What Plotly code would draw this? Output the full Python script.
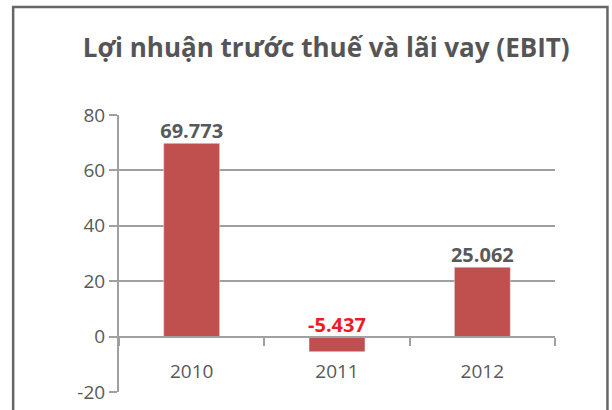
import plotly.graph_objects as go

categories = ["2010", "2011", "2012"]
values = [69.773, -5.437, 25.062]
value_labels = ["69.773", "-5.437", "25.062"]
label_colors = ["#58595b", "#ed1c24", "#58595b"]
y_ticks = [-20, 0, 20, 40, 60, 80]
y_tick_labels = ["-20", "0", "20", "40", "60", "80"]

GRAY = "#a0a0a2"
TXT = "#58595b"

fig = go.Figure()
fig.add_trace(go.Bar(x=categories, y=values, marker_color="#c0504d", width=0.385))
fig.add_trace(go.Scatter(
    x=categories, y=[max(v, 0) for v in values], mode="text",
    text=["<b>%s</b>" % t for t in value_labels], textposition="top center",
    textfont=dict(family="Open Sans", size=20, color=label_colors),
    hoverinfo="skip", cliponaxis=False))

fig.add_shape(type="path", xref="paper", yref="paper",
              path="M -0.2428,-0.2 L -0.2428,1.39 L 1.1203,1.39 L 1.1203,-0.2",
              line=dict(color="#666666", width=2.5))

fig.update_layout(
    width=612, height=410,
    margin=dict(l=119, r=56.5, t=115, b=18, autoexpand=False),
    paper_bgcolor="white", plot_bgcolor="white",
    showlegend=False,
    title=dict(text="<b>Lợi nhuận trước thuế và lãi vay (EBIT)</b>",
               x=0.533, xanchor="center", xref="container",
               y=1 - 48 / 410, yanchor="middle", yref="container",
               font=dict(family="Open Sans", size=26, color="#555557")),
    xaxis=dict(type="category", range=[-0.5, 2.5], anchor="free", position=0.2,
               showline=True, linecolor=GRAY, linewidth=2,
               ticks="outside", tickson="boundaries", ticklen=8, tickwidth=2, tickcolor=GRAY,
               ticklabelstandoff=18, showgrid=False,
               tickfont=dict(family="Open Sans", size=19, color=TXT)),
    yaxis=dict(range=[-20, 80], tickvals=y_ticks, ticktext=y_tick_labels,
               showline=True, linecolor=GRAY, linewidth=2,
               ticks="outside", ticklen=8, tickwidth=2, tickcolor=GRAY,
               showgrid=True, gridcolor=GRAY, gridwidth=2,
               zeroline=True, zerolinecolor=GRAY, zerolinewidth=2,
               tickfont=dict(family="Open Sans", size=19, color=TXT)),
)

fig.write_html("out.html", config={"displayModeBar": False},
               post_script="document.body.style.margin='0';")
